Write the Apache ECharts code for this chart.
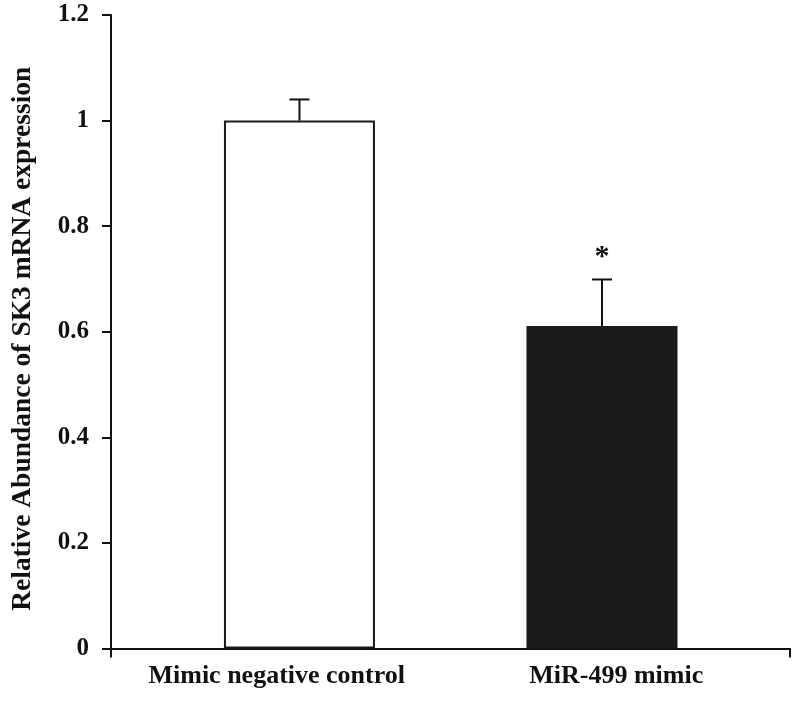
<!DOCTYPE html>
<html>
<head>
<meta charset="utf-8">
<script src="https://cdn.jsdelivr.net/npm/echarts@6/dist/echarts.min.js"></script>
<style>html,body{margin:0;padding:0;background:#fff}#c{width:800px;height:701px}</style>
</head>
<body>
<div id="c"></div>
<script>
// ---- data ----
const categories = ['Mimic negative control', 'MiR-499 mimic'];
const means = [1.0, 0.611];
const errors = [0.04, 0.088];
const marks = ['', '*'];
const yTicks = [0, 0.2, 0.4, 0.6, 0.8, 1, 1.2];
const yTitle = 'Relative Abundance of SK3 mRNA expression';

// ---- layout / style ----
const XMIN = 0.377, XMAX = 2.6215;
const FONT = '"Liberation Serif", "Times New Roman", serif';
const fills = ['#ffffff', '#1b1b1b'];

const chart = echarts.init(document.getElementById('c'), null, {renderer: 'canvas'});
const barData = means.map((v, i) => ({
  value: [i + 1, v],
  itemStyle: {color: fills[i], borderColor: '#1b1b1b', borderWidth: 2}
}));
const errData = means.map((v, i) => [i + 1, v, v + errors[i], marks[i]]);

chart.setOption({
  animation: false,
  backgroundColor: '#fff',
  grid: {left: 111, right: 10, top: 15, bottom: 52.5, containLabel: false},
  xAxis: [
    {
      type: 'category', data: categories, position: 'bottom', boundaryGap: true,
      axisLine: {show: false}, axisTick: {show: false}, splitLine: {show: false},
      axisLabel: {show: true, margin: 15, interval: 0, color: '#111', fontFamily: FONT, fontWeight: 'bold', fontSize: 26,
        padding: [0, 8, 0, 0]}
    },
    {
      type: 'value', position: 'bottom', min: XMIN, max: XMAX,
      axisLine: {show: true, lineStyle: {color: '#111', width: 2}},
      axisTick: {show: true, customValues: [XMIN, XMAX], length: 9, lineStyle: {color: '#111', width: 2}},
      axisLabel: {show: false}, splitLine: {show: false}
    }
  ],
  yAxis: {
    type: 'value', min: yTicks[0], max: yTicks[yTicks.length - 1], interval: yTicks[1] - yTicks[0],
    name: yTitle, nameLocation: 'middle', nameGap: 74,
    nameTextStyle: {color: '#111', fontFamily: FONT, fontWeight: 'bold', fontSize: 27.5, padding: [0, 14, 0, 0]},
    axisLine: {show: true, lineStyle: {color: '#111', width: 2}},
    axisTick: {show: true, length: 9, lineStyle: {color: '#111', width: 2}},
    axisLabel: {margin: 22, color: '#111', fontFamily: FONT, fontWeight: 'bold', fontSize: 25,
      formatter: v => String(Math.round(v * 10) / 10)},
    splitLine: {show: false}
  },
  series: [
    {
      type: 'bar', xAxisIndex: 1, barWidth: 151, data: barData, z: 2
    },
    {
      type: 'custom', xAxisIndex: 1, data: errData, z: 3,
      renderItem: function (params, api) {
        const base = api.coord([api.value(0), api.value(1)]);
        const top = api.coord([api.value(0), api.value(2)]);
        const cap = 10;
        const children = [
          {type: 'line', shape: {x1: top[0], y1: base[1], x2: top[0], y2: top[1]}, style: {stroke: '#111', lineWidth: 2}},
          {type: 'line', shape: {x1: top[0] - cap, y1: top[1], x2: top[0] + cap, y2: top[1]}, style: {stroke: '#111', lineWidth: 2}}
        ];
        const m = marks[params.dataIndex];
        if (m) {
          children.push({type: 'text', x: top[0], y: top[1] - 7,
            style: {text: m, fill: '#111', font: 'bold 30px ' + FONT, align: 'center', verticalAlign: 'bottom'}});
        }
        return {type: 'group', children: children};
      }
    }
  ]
});
</script>
</body>
</html>
